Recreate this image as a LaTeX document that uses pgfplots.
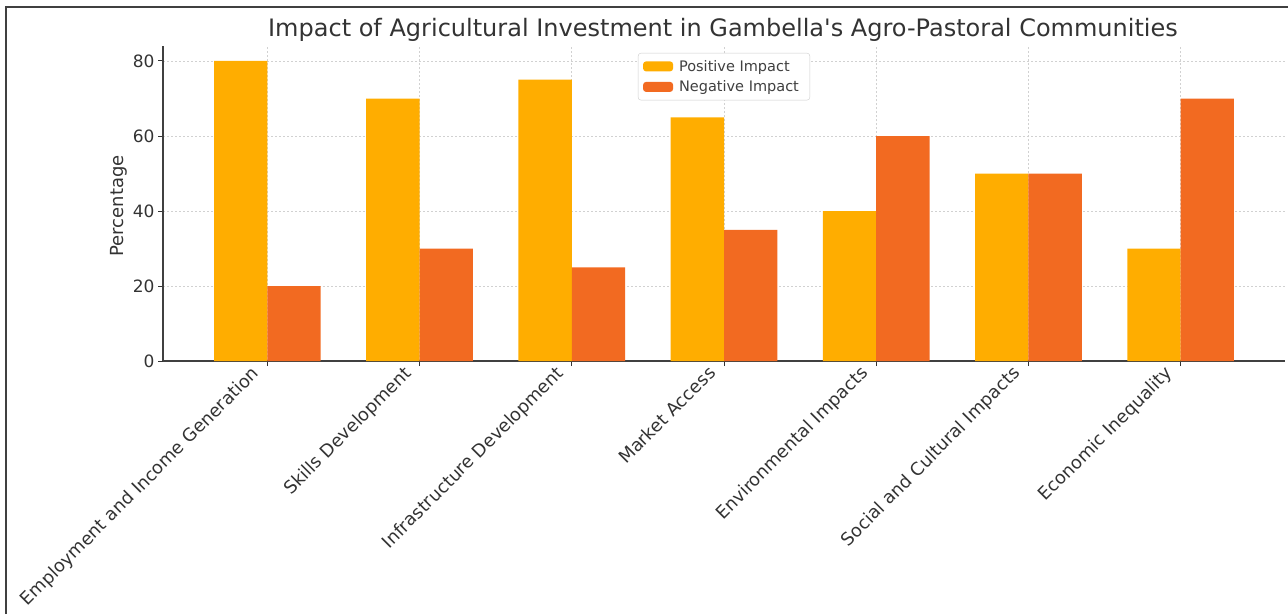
\documentclass[border=0pt]{standalone}
\usepackage{fontspec}
\setmainfont{DejaVu Sans}
\newfontfamily\plainfont{DejaVu Sans}
\usepackage{pgfplots}
\pgfplotsset{compat=1.18}
\definecolor{pos}{HTML}{FFAD00}
\definecolor{neg}{HTML}{F26A21}
\definecolor{txt}{HTML}{333333}
\begin{document}
\begin{tikzpicture}[x=1pt,y=1pt]
\path[use as bounding box] (0,0) rectangle (1288,614);
\draw[color=black!75, line width=1.5pt] (6,0) -- (6,607) -- (1288,607);
\begin{axis}[
  at={(163pt,253pt)}, anchor=south west,
  width=1122pt, height=315pt, scale only axis,
  xmin=-0.685, xmax=6.685, ymin=0, ymax=84,
  axis x line*=bottom, axis y line*=left,
  axis line style={black!75, line width=1.2pt},
  xtick={0,...,6},
  xticklabels={Employment and Income Generation, Skills Development, Infrastructure Development, Market Access, Environmental Impacts, Social and Cultural Impacts, Economic Inequality},
  ytick={0,20,40,60,80},
  grid=major,
  major grid style={dash pattern=on 2pt off 2pt, color=black!18, line width=0.8pt},
  tick style={black!80, line width=1pt},
  major tick length=5pt, tick align=outside,
  x tick label style={rotate=45, anchor=north east, font=\fontsize{17.8}{17.8}\selectfont, text=txt, inner sep=1pt, xshift=-10pt, yshift=14pt},
  y tick label style={font=\fontsize{17}{17}\selectfont, text=txt},
  /pgf/number format/assume math mode=true,
  ybar, bar width=0.35,
  legend style={at={(0.5,0.978)}, anchor=north, draw=black!20, rounded corners=3pt,
    font=\fontsize{14.5}{16}\selectfont, text=black!75, fill=white, row sep=4pt, inner sep=5pt,
    nodes={inner xsep=6pt}},
  legend cell align=left,
  legend image code/.code={\draw[#1, draw=none] (0pt,-5pt) rectangle (30pt,5pt);},
]
\addplot[fill=pos, draw=none, bar shift=-0.175] coordinates {(0,80) (1,70) (2,75) (3,65) (4,40) (5,50) (6,30)};
\addplot[fill=neg, draw=none, bar shift=0.175] coordinates {(0,20) (1,30) (2,25) (3,35) (4,60) (5,50) (6,70)};
\legend{Positive Impact, Negative Impact}
\end{axis}
\node[text=txt, font=\plainfont\fontsize{24}{24}\selectfont] at (723,584) {Impact of Agricultural Investment in Gambella's Agro-Pastoral Communities};
\node[rotate=90, text=txt, font=\fontsize{18}{18}\selectfont] at (119,408) {Percentage};
\end{tikzpicture}
\end{document}
